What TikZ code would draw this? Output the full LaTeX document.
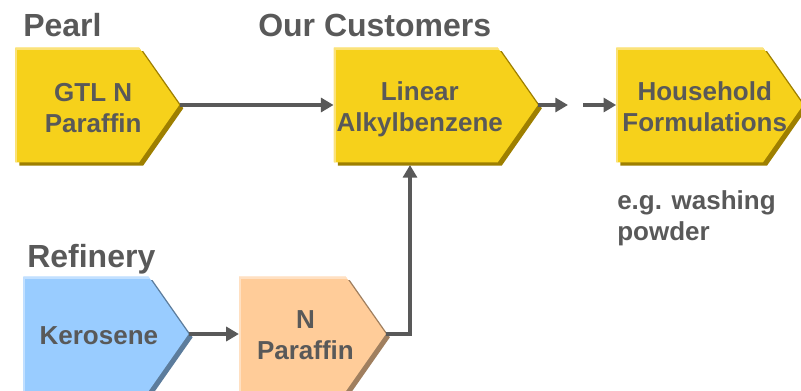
\documentclass[tikz,border=0pt]{standalone}
\usepackage{fontspec}
\setmainfont{Liberation Sans}
\usetikzlibrary{shapes.symbols,shadows,arrows.meta}
\usetikzlibrary{positioning}
\definecolor{txtgray}{HTML}{595959}
\definecolor{gold}{HTML}{F6D11B}
\definecolor{goldshade}{HTML}{9E7F00}
\definecolor{goldlight}{HTML}{FBE27A}
\definecolor{sky}{HTML}{99CCFF}
\definecolor{skyshade}{HTML}{5C7C9C}
\definecolor{skylight}{HTML}{C2E0FF}
\definecolor{peach}{HTML}{FFCC99}
\definecolor{peachshade}{HTML}{A07F5F}
\definecolor{peachlight}{HTML}{FFE0C2}
\tikzset{
    stage/.style = {signal, signal to=east, signal pointer angle=110,
                 minimum height=86pt, inner sep=0pt, fill=#1,
                 general shadow={fill=#1shade, shadow xshift=3pt, shadow yshift=-2.5pt},
                 path picture={\draw[#1light, line width=3pt]
                   (path picture bounding box.south west) -- (path picture bounding box.north west)
                   -- (path picture bounding box.north east);}},
    stagetext/.style = {align=center, inner sep=0pt,
                 font=\bfseries\fontsize{19.5}{23.5}\selectfont, text=txtgray},
    title/.style = {anchor=base west, inner sep=0pt,
                 font=\bfseries\fontsize{24}{28}\selectfont, text=txtgray},
    flow/.style = {draw=txtgray, line width=3.4pt, -{Triangle[length=9.5pt,width=10.5pt]}},
}

\begin{document}
\begin{tikzpicture}[x=0.75pt,y=-0.75pt]
\useasboundingbox (0,0) rectangle (801,390);
 \node (pearl) [title] at (23,36) {Pearl};
 \node (cust)  [title] at (258,36) {Our Customers};
 \node (refin) [title] at (27,267) {Refinery};
 \node (gtl)   [stage=gold, minimum width=123pt, anchor=west,
                label={[stagetext, xshift=12pt, yshift=-2.5pt]center:GTL N\\Paraffin}] at (15,105) {};
 \node (lab)   [stage=gold, minimum width=153pt, right=115.5pt of gtl,
                label={[stagetext, xshift=3pt, yshift=-3pt]center:Linear\\Alkylbenzene}] {};
 \node (house) [stage=gold, minimum width=140pt, right=58.5pt of lab,
                label={[stagetext, xshift=11.25pt, yshift=-1.5pt]center:Household\\Formulations}] {};
 \node (usage) [stagetext, anchor=north west, align=left] at (617,190) {e.g. washing\\powder};
 \node (kero)  [stage=sky, minimum width=124pt, anchor=west,
                label={[stagetext, xshift=9.75pt, yshift=-1pt]center:Kerosene}] at (23,334) {};
 \node (npar)  [stage=peach, minimum width=110pt, right=37.5pt of kero,
                label={[stagetext, xshift=9.75pt, yshift=-1pt]center:N\\Paraffin}] {};

\coordinate (gapa) at (568,105);
\coordinate (gapb) at (583,105);
\coordinate (riser) at (410,165);
\draw[flow] (gtl) to (lab);
\draw[flow] (lab.east) to (gapa);
\draw[flow] (gapb) to (house.west);
\draw[flow] (kero) to (npar);
\draw[flow] (npar.east) -| (riser);
\end{tikzpicture}
\end{document}
